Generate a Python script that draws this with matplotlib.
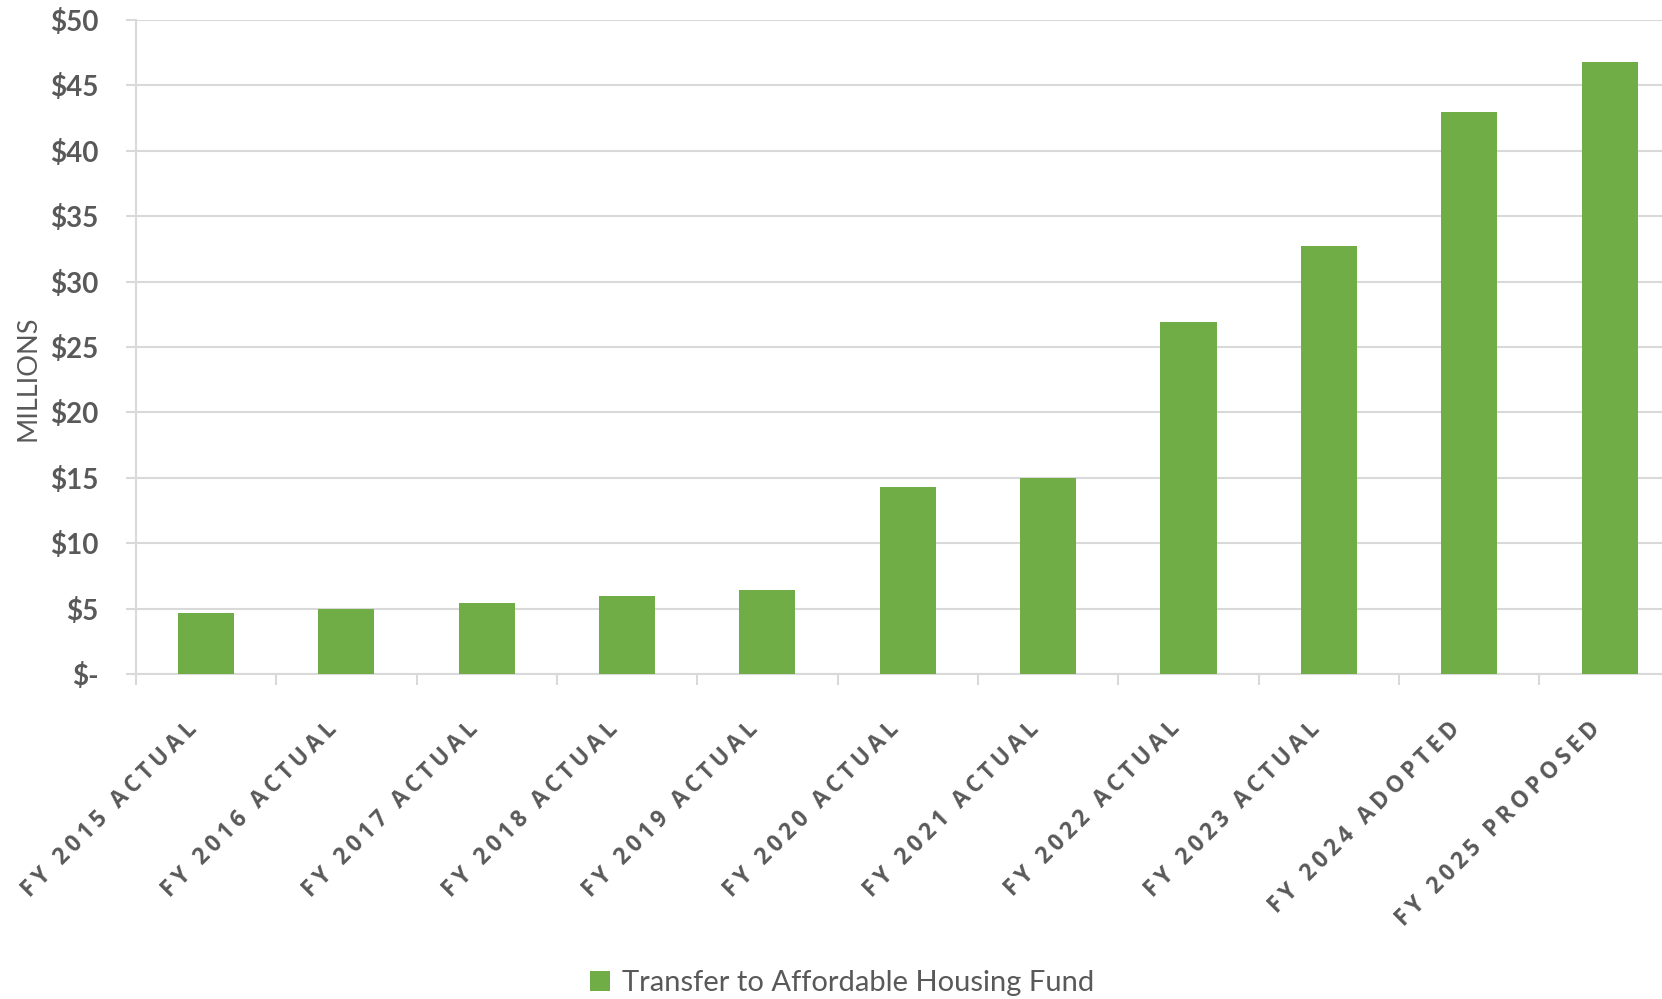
import numpy as np
import matplotlib
matplotlib.use('Agg')
import matplotlib.pyplot as plt
import matplotlib.transforms as mtransforms
from matplotlib.ticker import FixedLocator

categories = ['FY 2015 ACTUAL', 'FY 2016 ACTUAL', 'FY 2017 ACTUAL', 'FY 2018 ACTUAL',
              'FY 2019 ACTUAL', 'FY 2020 ACTUAL', 'FY 2021 ACTUAL', 'FY 2022 ACTUAL',
              'FY 2023 ACTUAL', 'FY 2024 ADOPTED', 'FY 2025 PROPOSED']
transfer = [4.7, 5.0, 5.4, 6.0, 6.4, 14.3, 15.0, 26.9, 32.7, 43.0, 46.8]
yticks = [0, 5, 10, 15, 20, 25, 30, 35, 40, 45, 50]
ytick_labels = ['$-', '$5', '$10', '$15', '$20', '$25', '$30', '$35', '$40', '$45', '$50']

text_col = '#595959'
grid_col = '#d9d9d9'
bar_col = '#70ad47'

fig = plt.figure(figsize=(16.62, 9.99), dpi=100)
ax = fig.add_axes([0.0817, 0.3253, 0.929, 0.6547])

x = np.arange(len(categories))
bars = ax.bar(x, transfer, width=0.4, color=bar_col, zorder=3,
              label='Transfer to Affordable Housing Fund')

ax.set_xlim(-0.5, len(categories) - 0.5)
ax.set_ylim(0, 50)
ax.set_yticks(yticks)
ax.set_yticklabels(ytick_labels, fontsize=20, fontweight='bold', color=text_col, family='Lato')
ax.yaxis.grid(True, color=grid_col, linewidth=1.5, zorder=0)
ax.tick_params(axis='y', length=7, color=grid_col, width=1.5, pad=20)

# spaced-out letters like the original axis labels
spaced = ['\u2009'.join(c) for c in categories]
ax.set_xticks(x)
ax.set_xticklabels(spaced, rotation=45, ha='right', va='top', rotation_mode='anchor',
                   fontsize=16.3, fontweight='bold', color=text_col, family='Open Sans')
ax.tick_params(axis='x', which='major', length=0, pad=31)
shift = mtransforms.ScaledTranslation(-21 / 100, 0, fig.dpi_scale_trans)
for lab in ax.get_xticklabels():
    lab.set_transform(lab.get_transform() + shift)
ax.xaxis.set_minor_locator(FixedLocator(np.arange(-0.5, len(categories), 1.0)))
ax.tick_params(axis='x', which='minor', length=8, color=grid_col, width=1.5)

for s in ['top', 'right']:
    ax.spines[s].set_visible(False)
for s in ['left', 'bottom']:
    ax.spines[s].set_color(grid_col)
    ax.spines[s].set_linewidth(1.5)

fig.text(0.0166, 0.621, 'MILLIONS', rotation=90, ha='center', va='center',
         fontsize=19.5, color=text_col, family='Lato')

leg = fig.legend(handles=[bars], loc='center', bbox_to_anchor=(0.5066, 0.016),
                 frameon=False, handlelength=0.7, handleheight=0.7,
                 handletextpad=0.4, prop={'family': 'Lato', 'size': 21})
for t in leg.get_texts():
    t.set_color(text_col)

fig.savefig('out.png', dpi=100)
